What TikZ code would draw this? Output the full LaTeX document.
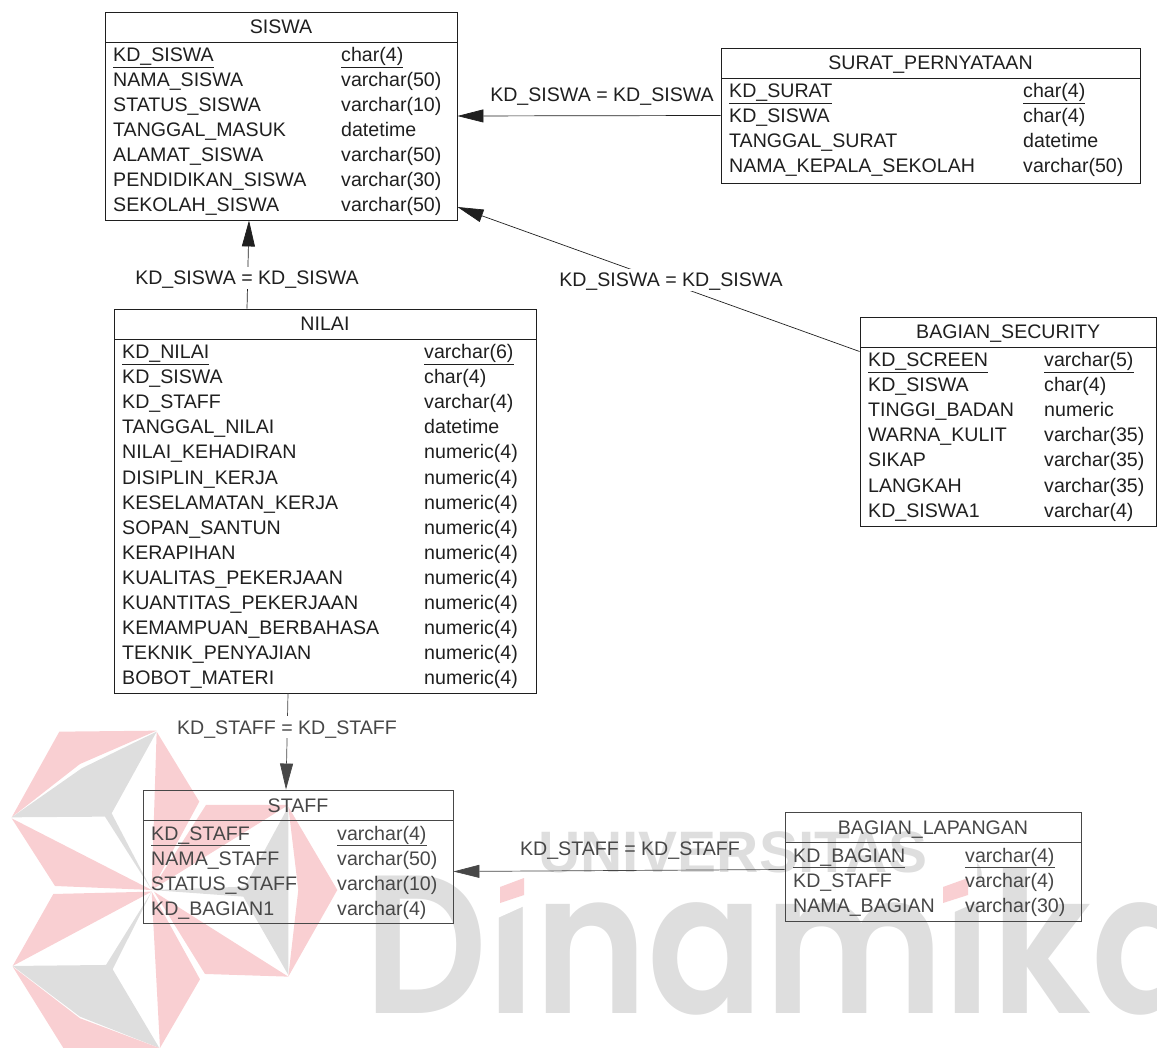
\documentclass[tikz,border=0pt]{standalone}
\usepackage{fontspec}
\setmainfont{Liberation Sans}
\newfontfamily\wmfont{Poppins SemiBold}
\usetikzlibrary{arrows.meta}
\definecolor{wmgray}{HTML}{DEDEDE}
\definecolor{wmpink}{HTML}{F9CFD2}
\colorlet{ink}{black!88}
\tikzset{
  tbl/.style={draw=ink, line width=.9pt, inner sep=0pt},
  ttl/.style={text=ink, inner sep=0pt, text height=15pt, text depth=1pt, font=\fontsize{19.6}{19.6}\selectfont},
  fld/.style={ttl, anchor=west},
  rel/.style={draw=ink, line width=.7pt, -{Triangle[length=26pt,width=13pt]}},
  rellabel/.style={ttl, fill=white, inner sep=3pt},
  pinkpc/.style={fill=wmpink},
  graypc/.style={fill=wmgray}
}
% #1 name, #2-#5 left top right bottom, #6 title, #7 type column, #8 rows
\newcommand{\entity}[8]{
  \node[tbl, minimum width={(#4-#2)*1pt}, minimum height={(#5-#3)*1pt}] (#1) at ({(#2+#4)/2},{(#3+#5)/2}) {};
  \node[ttl] (#1-t) at ({(#2+#4)/2},#3+15) {#6};
  \draw[draw=ink, line width=.9pt] (#2,#3+30)--(#4+1,#3+30);
  \foreach \fname/\ftype [count=\i from 0] in {#8}{
    \ifnum\i=0
      \node[fld] (#1-n\i) at (#2+8,#3+43) {\underline{\fname}};
      \node[fld] (#1-d\i) at (#7,#3+43) {\underline{\ftype}};
    \else
      \node[fld] (#1-n\i) at (#2+8,#3+43+25*\i) {\fname};
      \node[fld] (#1-d\i) at (#7,#3+43+25*\i) {\ftype};
    \fi
  }
}
\begin{document}
\begin{tikzpicture}[x=1pt,y=-1pt]
\useasboundingbox (0,0) rectangle (1157,1048);

\node[anchor=base west, inner sep=0pt, xscale=.87, text=wmgray, font=\fontsize{197}{197}\wmfont] (wmname) at (364,1013) {Dinamika};
\fill[white] (491,850)--(533,850)--(533,902)--(491,921)--cycle;
\fill[white] (934,850)--(977,850)--(977,902)--(934,921)--cycle;
\node[anchor=base west, inner sep=0pt, text=wmgray, font=\fontsize{58.5}{58.5}\selectfont\bfseries] (wmuni) at (538,872) {UNIVERSITAS};
\fill[wmpink] (500,887)--(524,878)--(524,895)--(500,903)--cycle;
\fill[wmpink] (943,887)--(968,878)--(968,895)--(943,903)--cycle;

\begin{scope}[shift={(0,690)},x=.3333pt,y=-.3333pt]
\fill[pinkpc] (178,125)--(470,122)--(240,222)--(35,382)--cycle;
\fill[graypc] (470,125)--(335,370)--(455,600)--(315,380)--(35,382)--(245,235)--cycle;
\fill[pinkpc] (35,385)--(455,600)--(165,588)--cycle;
\fill[pinkpc] (470,125)--(598,335)--(455,600)--cycle;
\fill[pinkpc] (618,345)--(865,345)--(455,600)--cycle;
\fill[graypc] (865,350)--(735,590)--(455,600)--(730,620)--(865,855)--cycle;
\fill[pinkpc] (865,350)--(1012,600)--(865,860)--(895,600)--cycle;
\fill[pinkpc] (455,605)--(160,612)--(38,828)--cycle;
\fill[graypc] (38,828)--(318,825)--(455,605)--(338,838)--(478,1074)--(240,980)--cycle;
\fill[pinkpc] (38,830)--(240,985)--(478,1074)--(190,1074)--cycle;
\fill[pinkpc] (455,605)--(600,868)--(480,1074)--cycle;
\fill[pinkpc] (462,605)--(865,860)--(615,852)--cycle;
\end{scope}

\entity{siswa}{105}{12}{457}{220}{SISWA}{341}{KD\_SISWA/char(4),NAMA\_SISWA/varchar(50),STATUS\_SISWA/varchar(10),TANGGAL\_MASUK/datetime,ALAMAT\_SISWA/varchar(50),PENDIDIKAN\_SISWA/varchar(30),SEKOLAH\_SISWA/varchar(50)}
\entity{surat}{721}{48}{1140}{183}{SURAT\_PERNYATAAN}{1023}{KD\_SURAT/char(4),KD\_SISWA/char(4),TANGGAL\_SURAT/datetime,NAMA\_KEPALA\_SEKOLAH/varchar(50)}
\entity{nilai}{114}{309}{536}{693}{NILAI}{424}{KD\_NILAI/varchar(6),KD\_SISWA/char(4),KD\_STAFF/varchar(4),TANGGAL\_NILAI/datetime,NILAI\_KEHADIRAN/numeric(4),DISIPLIN\_KERJA/numeric(4),KESELAMATAN\_KERJA/numeric(4),SOPAN\_SANTUN/numeric(4),KERAPIHAN/numeric(4),KUALITAS\_PEKERJAAN/numeric(4),KUANTITAS\_PEKERJAAN/numeric(4),KEMAMPUAN\_BERBAHASA/numeric(4),TEKNIK\_PENYAJIAN/numeric(4),BOBOT\_MATERI/numeric(4)}
\entity{security}{860}{317}{1156.5}{526}{BAGIAN\_SECURITY}{1044}{KD\_SCREEN/varchar(5),KD\_SISWA/char(4),TINGGI\_BADAN/numeric,WARNA\_KULIT/varchar(35),SIKAP/varchar(35),LANGKAH/varchar(35),KD\_SISWA1/varchar(4)}

\colorlet{ink}{black!72}
\entity{staff}{143}{790}{453}{923}{STAFF}{337}{KD\_STAFF/varchar(4),NAMA\_STAFF/varchar(50),STATUS\_STAFF/varchar(10),KD\_BAGIAN1/varchar(4)}
\entity{lapangan}{785}{812}{1081}{921}{BAGIAN\_LAPANGAN}{965}{KD\_BAGIAN/varchar(4),KD\_STAFF/varchar(4),NAMA\_BAGIAN/varchar(30)}

\draw[rel] ([yshift=-3pt]lapangan.west)--([yshift=-15pt]staff.east);
\draw[rel] ([xshift=-37pt]nilai.south)--([xshift=-12pt]staff.north);
\node[rellabel] (relfour) at (287,727) {KD\_STAFF = KD\_STAFF};
\node[ttl] (relfive) at (630,848) {KD\_STAFF = KD\_STAFF};

\colorlet{ink}{black!88}
\draw[rel] (surat.west)--(siswa.east);
\draw[rel] ([yshift=70pt]security.west)--([yshift=-91pt]siswa.east);
\draw[rel] ([xshift=-78pt]nilai.north)--([xshift=-32pt]siswa.south);
\node[ttl] (relone) at (602,95) {KD\_SISWA = KD\_SISWA};
\node[rellabel] (reltwo) at (247,278) {KD\_SISWA = KD\_SISWA};
\node[rellabel] (relthree) at (671,280) {KD\_SISWA = KD\_SISWA};
\end{tikzpicture}
\end{document}
